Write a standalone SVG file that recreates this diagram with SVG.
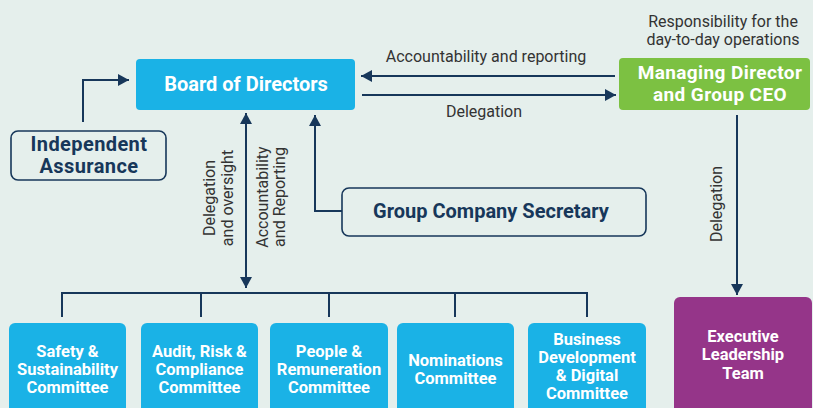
<svg xmlns="http://www.w3.org/2000/svg" width="813" height="408" viewBox="0 0 813 408">
<defs>
<marker id="ah" markerWidth="12" markerHeight="12" refX="11" refY="6" orient="auto-start-reverse" markerUnits="userSpaceOnUse">
<path d="M0,0 L11,6 L0,12 Z" fill="#17375a"/>
</marker>
<style>
.ln{fill:none;stroke:#17375a;stroke-width:2}
.wt{font-family:Roboto,"Liberation Sans",sans-serif;font-weight:bold;fill:#fff;text-anchor:middle}
.hd{font-size:20px}
.h2{font-size:19px;letter-spacing:0.4px}
.sm{font-size:16.5px}
.nv{font-family:Roboto,"Liberation Sans",sans-serif;font-weight:bold;fill:#17375a;text-anchor:middle;font-size:20px}
.lb{font-family:Roboto,"Liberation Sans",sans-serif;fill:#333;font-size:16px;text-anchor:middle}
.cm{fill:#1ab2e6}
.ob{fill:none;stroke:#17375a;stroke-width:1.6}
</style>
</defs>
<rect width="813" height="408" fill="#e5efec"/>

<g id="connectors">
<path class="ln" d="M83,122 V80 H129" marker-end="url(#ah)"/>
<path class="ln" d="M615,76 H361" marker-end="url(#ah)"/>
<path class="ln" d="M362,95 H616" marker-end="url(#ah)"/>
<path class="ln" d="M246,113 V288" marker-start="url(#ah)" marker-end="url(#ah)"/>
<path class="ln" d="M342,211 H315 V115" marker-end="url(#ah)"/>
<path class="ln" d="M737,115 V295" marker-end="url(#ah)"/>
<path class="ln" d="M62,317 V293 H587 V317 M201,293 V317 M329,293 V317 M455,293 V317"/>
<text class="lb" x="486" y="62">Accountability and reporting</text>
<text class="lb" x="484" y="117">Delegation</text>
<text class="lb" transform="translate(215,198) rotate(-90)"><tspan x="0" y="0">Delegation</tspan><tspan x="0" y="18">and oversight</tspan></text>
<text class="lb" transform="translate(268,197) rotate(-90)"><tspan x="0" y="0">Accountability</tspan><tspan x="0" y="17">and Reporting</tspan></text>
<text class="lb" transform="translate(722,204) rotate(-90)">Delegation</text>
<text class="lb"><tspan x="723" y="27">Responsibility for the</tspan><tspan x="723" y="45">day-to-day operations</tspan></text>
</g>

<g id="board">
<rect x="136" y="59" width="219" height="51" rx="4" fill="#1ab2e6"/>
<text class="wt hd" x="246" y="91">Board of Directors</text>
</g>

<g id="independent-assurance">
<rect class="ob" x="11" y="131" width="155" height="49" rx="7"/>
<text class="nv h2"><tspan x="89" y="151">Independent</tspan><tspan x="89" y="173">Assurance</tspan></text>
</g>

<g id="md-ceo">
<rect x="619" y="58" width="191" height="52" rx="4" fill="#7cc142"/>
<text class="wt h2"><tspan x="720" y="79">Managing Director</tspan><tspan x="720" y="101">and Group CEO</tspan></text>
</g>

<g id="company-secretary">
<rect class="ob" x="342" y="188" width="304" height="48" rx="7"/>
<text class="nv" x="491" y="218">Group Company Secretary</text>
</g>

<g id="safety">
<rect class="cm" x="9" y="323" width="117" height="95" rx="6"/>
<text class="wt sm"><tspan x="67.5" y="357">Safety &amp;</tspan><tspan x="67.5" y="375">Sustainability</tspan><tspan x="67.5" y="393">Committee</tspan></text>
</g>

<g id="audit">
<rect class="cm" x="141" y="323" width="117" height="95" rx="6"/>
<text class="wt sm"><tspan x="199.5" y="357">Audit, Risk &amp;</tspan><tspan x="199.5" y="375">Compliance</tspan><tspan x="199.5" y="393">Committee</tspan></text>
</g>

<g id="people">
<rect class="cm" x="270" y="323" width="118" height="95" rx="6"/>
<text class="wt sm"><tspan x="329" y="357">People &amp;</tspan><tspan x="329" y="375">Remuneration</tspan><tspan x="329" y="393">Committee</tspan></text>
</g>

<g id="nominations">
<rect class="cm" x="397" y="323" width="117" height="95" rx="6"/>
<text class="wt sm"><tspan x="455.5" y="366">Nominations</tspan><tspan x="455.5" y="384">Committee</tspan></text>
</g>

<g id="business">
<rect class="cm" x="528" y="323" width="118" height="95" rx="6"/>
<text class="wt sm"><tspan x="587" y="345">Business</tspan><tspan x="587" y="363">Development</tspan><tspan x="587" y="381">&amp; Digital</tspan><tspan x="587" y="399">Committee</tspan></text>
</g>

<g id="executive">
<rect x="674" y="297" width="138" height="121" rx="6" fill="#953589"/>
<text class="wt sm"><tspan x="743" y="342">Executive</tspan><tspan x="743" y="360">Leadership</tspan><tspan x="743" y="378.5">Team</tspan></text>
</g>
</svg>
